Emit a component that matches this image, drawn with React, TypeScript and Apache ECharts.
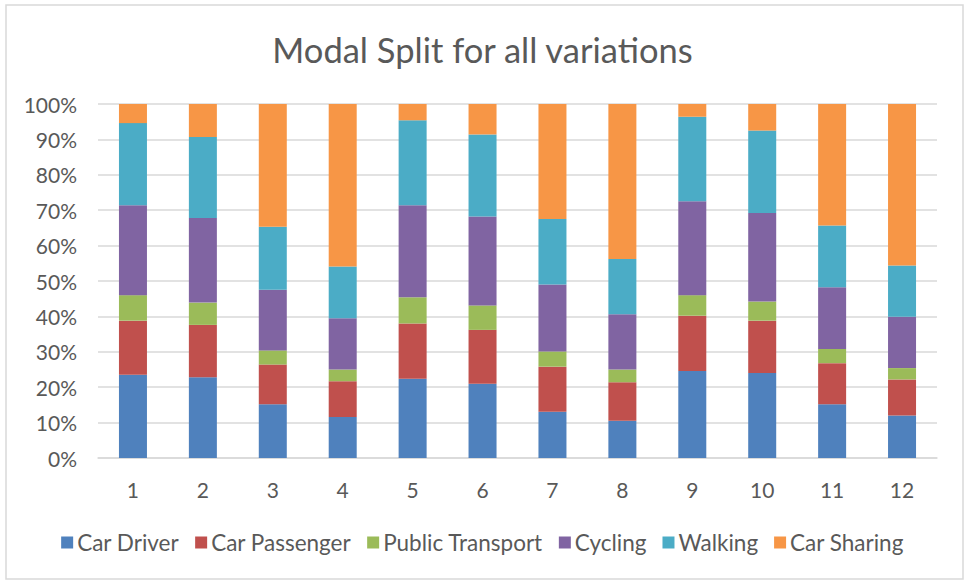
import React, { useEffect, useRef } from "react";
import * as echarts from "echarts";

const categories = ["1", "2", "3", "4", "5", "6", "7", "8", "9", "10", "11", "12"];
const carDriver = [23.5, 22.8, 15.2, 11.6, 22.4, 21.0, 13.1, 10.5, 24.6, 24.0, 15.2, 12.0];
const carPassenger = [15.3, 14.8, 11.2, 10.1, 15.6, 15.2, 12.7, 10.9, 15.6, 14.8, 11.6, 10.2];
const publicTransport = [7.2, 6.3, 4.0, 3.3, 7.4, 6.9, 4.3, 3.6, 5.8, 5.4, 4.0, 3.2];
const cycling = [25.4, 23.9, 17.1, 14.5, 26.0, 25.1, 18.9, 15.6, 26.5, 25.0, 17.4, 14.5];
const walking = [23.2, 22.9, 17.8, 14.6, 24.0, 23.2, 18.5, 15.6, 23.9, 23.3, 17.5, 14.5];
const carSharing = [5.4, 9.3, 34.7, 45.9, 4.6, 8.6, 32.5, 43.8, 3.6, 7.5, 34.3, 45.6];

const seriesNames = ["Car Driver", "Car Passenger", "Public Transport", "Cycling", "Walking", "Car Sharing"];
const seriesValues = [carDriver, carPassenger, publicTransport, cycling, walking, carSharing];
const colors = ["#4F81BD", "#C0504D", "#9BBB59", "#8064A2", "#4BACC6", "#F79646"];

const FONT = "Lato";

export default function App() {
  const ref = useRef<HTMLDivElement>(null);
  useEffect(() => {
    if (!ref.current) return;
    const chart = echarts.init(ref.current, null, { renderer: "svg" });
    chart.setOption({
      animation: false,
      backgroundColor: "#ffffff",
      color: colors,
      title: {
        text: "Modal Split for all variations",
        left: "center",
        top: 27,
        textStyle: { fontFamily: FONT, fontSize: 34.5, fontWeight: "normal", color: "#595959" },
      },
      graphic: [
        {
          type: "rect",
          shape: { x: 6, y: 5, width: 957, height: 574 },
          style: { fill: "none", stroke: "#d9d9d9", lineWidth: 1.5 },
          silent: true,
        },
      ],
      legend: {
        top: 526,
        left: "center",
        itemWidth: 12,
        itemHeight: 12,
        itemGap: 16,
        icon: "rect",
        textStyle: { fontFamily: FONT, fontSize: 22.5, color: "#595959", padding: [0, 0, 0, -1] },
        data: seriesNames,
      },
      grid: { left: 98, right: 28, top: 104, bottom: 123, containLabel: false },
      xAxis: {
        type: "category",
        data: categories,
        axisLine: { lineStyle: { color: "#d9d9d9", width: 1.5 } },
        axisTick: { show: false },
        axisLabel: { fontFamily: FONT, fontSize: 21, color: "#595959", margin: 21 },
      },
      yAxis: {
        type: "value",
        min: 0,
        max: 100,
        interval: 10,
        axisLine: { show: false },
        axisTick: { show: false },
        splitLine: { lineStyle: { color: "#d9d9d9", width: 1.5 } },
        axisLabel: { fontFamily: FONT, fontSize: 21, color: "#595959", margin: 21, formatter: "{value}%" },
      },
      series: seriesNames.map((name, i) => ({
        name,
        type: "bar",
        stack: "total",
        barWidth: 28,
        data: seriesValues[i],
        itemStyle: { color: colors[i] },
      })),
    });
    return () => chart.dispose();
  }, []);
  return (
    <div
      ref={ref}
      style={{ position: "absolute", left: 0, top: 0, width: 965, height: 581 }}
    />
  );
}
